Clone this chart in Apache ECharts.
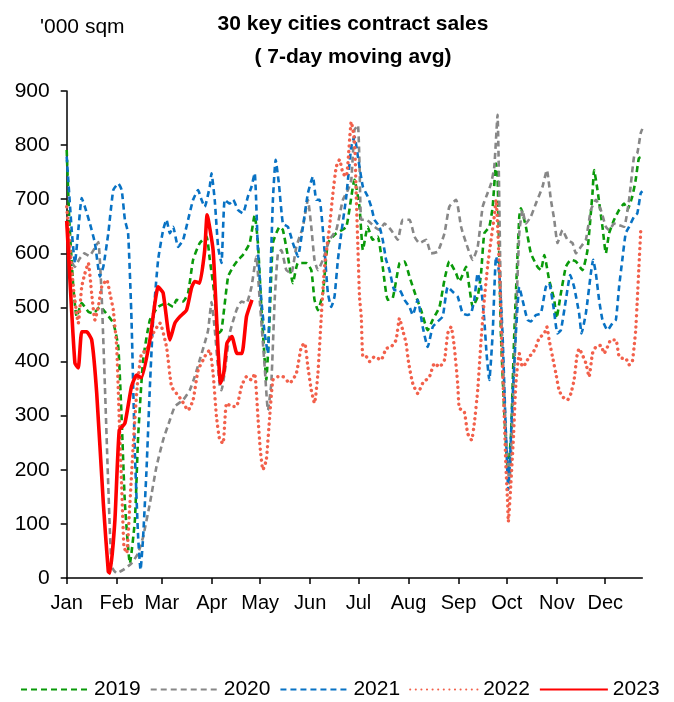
<!DOCTYPE html>
<html><head><meta charset="utf-8">
<script src="https://cdn.jsdelivr.net/npm/echarts@6/dist/echarts.min.js"></script>
<style>html,body{margin:0;padding:0;background:#fff}#c{width:674px;height:702px}</style>
</head><body><div id="c"></div>
<script>
// Day-of-year (0 = 1 Jan) and 7-day moving average sales ('000 sqm)
const monthLabels = ['Jan','Feb','Mar','Apr','May','Jun','Jul','Aug','Sep','Oct','Nov','Dec'];
const monthStarts = [0,31,59,90,120,151,181,212,243,273,304,334];
const yTicks = [0,100,200,300,400,500,600,700,800,900];

const days2019 = [0,1.6,4.1,6.2,9.3,13.4,16.5,20.6,23.7,28.9,32,34.1,36.1,39.2,42.3,44.3,47.4,51.6,56.7,61.9,66,68.1,72.2,75.3,78.4,82.5,86.7,88.7,91.8,93.9,96,100.1,103.2,106.3,109.3,113.5,116.6,118.6,120.7,122.8,123.8,125.9,127.9,132.1,134.1,137.2,140.3,143.4,148.6,151.7,153.7,155.8,158.9,162,167.2,173.4,178.5,181.6,183.7,186.7,189.8,192.9,196,199.1,202.2,206.4,209.5,212.6,216.7,219.8,223.9,227,231.2,234.3,237.3,241.5,243.5,247.7,249.7,251.8,254.9,257,259,262.1,264.2,266.3,267.2,269.3,271.5,273.6,275.5,277.6,280.7,281.7,284.8,287.9,292,294.1,296.2,299.2,302.4,303.8,306.5,309.6,312.7,315.8,319.9,323,326.1,327.1,329.2,332.3,334.4,336.4,339.5,342.6,345.7,347.7,350.8,352.9,354.9,357];
const sales2019 = [791,662,538,483,508,492,489,501,492,471,427,292,138,27,107,261,403,477,501,508,501,514,511,527,588,619,631,590,520,452,458,557,575,588,597,619,671,619,501,403,366,483,619,649,643,594,545,582,582,569,514,495,526,619,637,649,736,686,606,649,625,631,575,514,517,582,585,557,520,495,458,477,501,551,585,563,548,575,538,501,520,563,637,649,686,766,748,452,300,200,260,452,668,683,649,600,575,569,597,551,514,480,526,575,588,585,569,606,711,754,717,649,600,637,662,680,692,680,705,736,776,779];

const days2020 = [0,2.5,5,8,11,14,17.5,19.6,21.7,23.7,25.8,27.9,31,35,40.2,44.3,47.4,51.6,55.7,59.8,64,67.1,72.2,76.3,79.4,82.5,85.6,87.7,89.8,91.8,94.9,96,98,101.1,105.3,108.4,111.5,114.6,117.6,119.7,122.8,124.8,126.9,129,131,133.1,136.2,139.3,142.4,146.5,149.6,151.7,153.7,155.8,158.9,163,167.2,171.3,174.4,176.5,178.5,180.6,181.6,182.7,185.8,187.8,190.9,194,197.1,201.2,205.3,208.4,212.6,215.7,218.8,222.9,226,230.1,234.3,237.3,241.5,244.6,247.7,251.8,254.9,258,261,263.2,265.2,267.2,269.3,272.4,274.5,277.6,280.7,282.7,284.8,287.9,291,295.1,297.8,300.3,302.4,304.4,307.5,310.6,313.7,315.8,318.9,322,325.1,328.2,331.3,334.4,336.4,339.5,342.6,345.7,348.8,351.9,353.9,356,357];
const sales2020 = [655,590,575,590,600,595,610,621,520,354,169,21,9,15,27,46,76,138,206,255,292,317,329,347,372,403,434,458,510,460,355,347,380,452,495,511,508,538,594,514,390,310,360,514,600,606,569,563,612,649,699,649,588,569,588,625,643,699,717,736,828,837,766,662,662,658,649,643,655,643,625,662,662,631,619,625,600,603,637,686,699,649,619,588,612,686,711,729,760,856,514,267,175,390,637,680,655,668,692,723,754,699,662,619,643,625,619,600,612,625,680,699,680,649,643,655,652,649,699,779,785,822,830];

const days2021 = [0,3.1,5.1,7.2,9.3,11.3,14.4,17.5,20.6,22.7,25.8,28.9,32,34.1,36.1,38.1,40.2,42.3,44.3,45.8,47.4,49.5,51.6,53.6,56.7,59.8,61.9,64,66,69.1,72.2,75.3,78.4,81.5,83.5,85.6,88.7,89.8,91.8,93.9,96,98,101.1,103.2,106.3,109.3,112.4,114.6,116.6,118.6,120.7,122.8,124.8,125.9,127.9,129.6,131.6,134.1,137.2,140.3,143.4,146.5,149.6,152.7,154.8,156.8,159.9,162,164.1,166.1,168.2,170.3,173.4,176.5,178.5,180.6,183.7,186.7,188.9,190.9,194,196,198.1,200.2,203.3,206.4,209.5,212.6,214.6,217.7,220.8,223.9,227,230.1,233.2,236.3,239.4,242.5,245.6,248.7,250.8,252.8,254.9,257,259,260.4,262.1,264.2,266.3,268.3,270.3,272.4,273.9,276.5,278.6,280.7,282.7,285.8,287.9,291,294.1,297.2,299.2,301.9,304.4,306.5,309.6,312.3,314.7,317.8,319.3,322,325.1,326.5,328.2,330.2,332.3,335.4,338.5,340.6,342.6,344.6,346.7,348.8,351.9,353.9,356,357];
const sales2021 = [779,643,582,643,702,686,655,619,557,575,637,717,729,717,662,637,477,230,76,15,76,200,354,477,588,643,662,637,649,612,625,662,699,717,700,686,723,748,699,612,582,699,692,699,680,674,705,723,748,606,514,452,415,514,699,773,729,655,649,619,594,649,711,742,699,699,606,526,501,520,588,637,705,797,816,779,723,705,686,662,649,625,588,569,532,532,514,501,486,514,464,427,464,474,483,538,529,520,489,486,489,514,563,538,477,415,366,452,594,563,452,267,163,329,452,538,514,477,474,486,489,538,545,501,452,458,514,560,538,489,452,489,563,588,563,514,477,458,471,477,538,588,637,649,668,674,711,715];

const days2022 = [0,2,4.1,7.2,9.3,11.3,13.4,15.5,17.5,19.6,21.7,24.8,26.8,28.9,31,32.6,34.1,35.5,37.2,39.2,41.2,43.7,46.4,49.5,53.6,57.8,61.9,65,68.1,71.2,75.3,78.4,81.5,84.6,86.7,88.7,90.8,92.9,94.9,97,99.1,102.2,105.3,108.4,111.5,114.6,116.6,118.6,120.1,121.7,123.8,125.9,127.9,131,134.1,138.3,142.4,145.5,147.6,149.6,151.7,153.7,155.8,157.9,159.9,163,165.1,167.2,169.2,171.3,173.4,174.4,176.5,178.5,179.6,180.6,181.6,182.7,183.7,185.8,187.8,190.9,195,198.1,201.2,204.3,206.4,208.4,210.5,212.1,214.6,217.7,220.8,225,228.1,231.2,234.3,236.3,238.4,240.4,242.5,243.5,246.6,248.7,251.1,252.8,254.9,257,259,261,263.2,265.2,266.3,267.3,268.3,269.3,270.3,271.4,272.4,273.4,273.9,275.5,277.2,278.6,280.7,282.7,284.8,286.8,288.9,291,293,296.2,297.8,299.2,301.3,303.4,305.4,307.5,310.6,312.7,314.7,316.4,317.8,319.9,322,324,326.1,328.2,331.3,333.3,335.4,337.5,340.6,342.6,344.6,346.7,348.8,350.8,351.9,352.9,353.9,354.9,356];
const sales2022 = [686,612,538,471,538,563,582,526,477,501,538,551,526,495,427,292,169,58,46,138,243,354,415,421,452,471,427,354,341,329,310,329,384,403,415,421,378,298,255,249,323,317,317,354,372,366,378,298,237,200,218,298,366,372,372,360,378,427,434,390,347,323,378,483,575,649,711,760,773,748,742,766,843,809,705,612,520,483,409,409,400,409,403,424,427,440,480,458,434,397,360,341,360,372,397,390,403,452,464,427,360,314,307,267,255,286,347,440,514,575,625,668,699,649,575,483,390,298,206,144,104,175,267,360,415,390,397,409,415,427,443,452,464,440,409,378,347,335,329,341,366,409,424,412,397,372,415,427,430,415,427,440,440,409,406,406,394,400,427,458,514,575,640];

const days2023 = [0,2,5.1,7.2,9.3,12.4,15.5,18.6,22.7,25.8,26.8,29.9,32.6,36.1,40.2,43.3,46.4,51.6,56.7,59.8,64,67.1,70.2,74.3,77.4,79.4,82.5,85.6,87.1,90.8,93.9,95.4,97.4,99.4,102.5,105.6,108.7,111.5,114.9];
const sales2023 = [660,551,397,388,455,455,440,342,139,12,9,107,273,286,354,375,370,440,538,527,440,471,483,495,536,548,545,606,671,606,421,360,379,434,446,415,415,483,514];

const pair = (d, v) => d.map((x, i) => [x, v[i]]);

const seriesDefs = [
  {name:'2019', d:days2019, v:sales2019, color:'#0A9A0A', type:[6,4], width:2.6},
  {name:'2020', d:days2020, v:sales2020, color:'#878787', type:[6,4], width:2.6},
  {name:'2021', d:days2021, v:sales2021, color:'#0872C4', type:[6,4], width:2.6},
  {name:'2022', d:days2022, v:sales2022, color:'#F2604B', type:[0.1,5.5], width:3.4, cap:'round'},
  {name:'2023', d:days2023, v:sales2023, color:'#FF0000', type:'solid', width:3.6}
];

const chart = echarts.init(document.getElementById('c'), null, {renderer:'canvas'});
const FONT = '"Liberation Sans", Arial, sans-serif';
chart.setOption({
  animation: false,
  backgroundColor: '#ffffff',
  title: {
    text: '30 key cities contract sales\n( 7-day moving avg)',
    left: 348, top: 3, textAlign: 'center',
    textStyle: {fontFamily: FONT, fontSize: 21, fontWeight: 'bold', color: '#000', lineHeight: 33}
  },
  graphic: [{
    type: 'text', left: 40, top: 17,
    style: {text: "'000 sqm", fontFamily: FONT, fontSize: 21, fill: '#000'}
  }],
  legend: {
    top: 679, left: 20, right: 0, padding: 0,
    itemWidth: 68, itemHeight: 10, itemGap: 9,
    itemStyle: {opacity: 0},
    textStyle: {fontFamily: FONT, fontSize: 21, color: '#000'},
    data: seriesDefs.map(s => s.name)
  },
  grid: {left: 66.7, right: 31.7, top: 91, bottom: 124, containLabel: false},
  xAxis: {
    type: 'value', min: 0, max: 357,
    axisLine: {show: true, lineStyle: {color: '#000', width: 1.5}},
    axisTick: {show: true, length: 6, lineStyle: {color: '#000', width: 1.5}, customValues: monthStarts},
    axisLabel: {
      customValues: monthStarts, color: '#000', fontFamily: FONT, fontSize: 20, margin: 15,
      formatter: v => monthLabels[monthStarts.indexOf(Math.round(v))] || ''
    },
    splitLine: {show: false}
  },
  yAxis: {
    type: 'value', min: yTicks[0], max: yTicks[yTicks.length-1], interval: 100,
    axisLine: {show: true, lineStyle: {color: '#000', width: 1.5}},
    axisTick: {show: true, length: 6, lineStyle: {color: '#000', width: 1.5}},
    axisLabel: {color: '#000', fontFamily: FONT, fontSize: 21, margin: 17},
    splitLine: {show: false}
  },
  series: seriesDefs.map(s => ({
    name: s.name, type: 'line', data: pair(s.d, s.v), symbol: 'none', smooth: 0.15,
    color: s.color,
    lineStyle: {color: s.color, width: s.width, type: s.type, cap: s.cap || 'butt', join: 'round'},
    emphasis: {disabled: true}
  }))
});
</script></body></html>
